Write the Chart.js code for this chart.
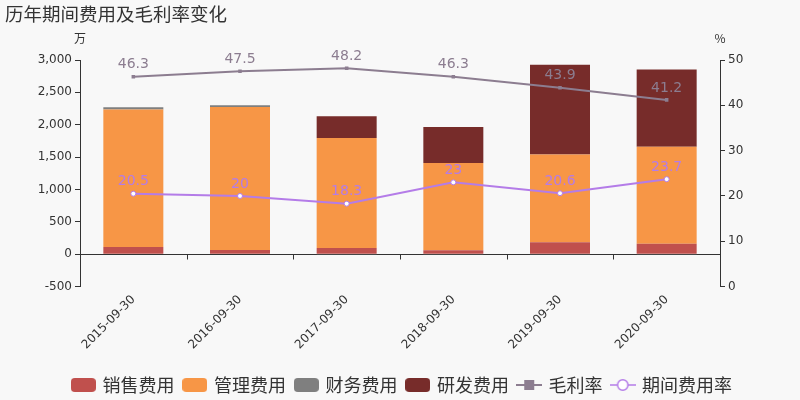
<!DOCTYPE html>
<html>
<head>
<meta charset="utf-8">
<script src="https://cdn.jsdelivr.net/npm/chart.js@4.4.1/dist/chart.umd.min.js"></script>
<style>
  html, body { margin: 0; padding: 0; background: #f8f8f8; }
  #wrap { width: 800px; height: 400px; }
</style>
</head>
<body>
<div id="wrap"><canvas id="c" width="800" height="400"></canvas></div>
<script>
const categories = ['2015-09-30', '2016-09-30', '2017-09-30', '2018-09-30', '2019-09-30', '2020-09-30'];
const salesExpense = [110, 65, 95, 60, 185, 160];
const adminExpense = [2125, 2210, 1700, 1350, 1355, 1500];
const financeExpense = [35, 25, -10, -10, -10, -10];
const rdExpense = [0, 0, 335, 555, 1385, 1195];
const grossMargin = [46.3, 47.5, 48.2, 46.3, 43.9, 41.2];
const expenseRate = [20.5, 20, 18.3, 23, 20.6, 23.7];
const leftTicks = { min: -500, max: 3000, step: 500 };
const rightTicks = { min: 0, max: 50, step: 10 };

const FONT = "'DejaVu Sans', 'Noto Sans CJK SC', sans-serif";
const CJK = "'Noto Sans CJK SC', 'DejaVu Sans', sans-serif";
const TEXT = '#333333';
const C_SALES = '#c0504d', C_ADMIN = '#f79646', C_FIN = '#7f7f7f', C_RD = '#772c2a';
const C_GM = '#8c7d90', C_ER = '#b47ce8';

function makeCanvas(w, h, draw) {
  const cv = document.createElement('canvas');
  cv.width = w; cv.height = h;
  draw(cv.getContext('2d'));
  return cv;
}
function boxIcon(color) {
  return makeCanvas(25, 14, ctx => {
    ctx.fillStyle = color;
    const r = 4, w = 25, h = 14;
    ctx.beginPath();
    ctx.moveTo(r, 0); ctx.lineTo(w - r, 0); ctx.quadraticCurveTo(w, 0, w, r);
    ctx.lineTo(w, h - r); ctx.quadraticCurveTo(w, h, w - r, h);
    ctx.lineTo(r, h); ctx.quadraticCurveTo(0, h, 0, h - r);
    ctx.lineTo(0, r); ctx.quadraticCurveTo(0, 0, r, 0);
    ctx.fill();
  });
}
const iconGM = makeCanvas(26, 12, ctx => {
  ctx.strokeStyle = C_GM; ctx.lineWidth = 2;
  ctx.beginPath(); ctx.moveTo(0, 6); ctx.lineTo(26, 6); ctx.stroke();
  ctx.fillStyle = C_GM; ctx.fillRect(8, 1, 10, 10);
});
const iconER = makeCanvas(26, 14, ctx => {
  ctx.strokeStyle = C_ER; ctx.lineWidth = 1.5;
  ctx.beginPath(); ctx.moveTo(0, 7); ctx.lineTo(26, 7); ctx.stroke();
  ctx.fillStyle = '#ffffff';
  ctx.beginPath(); ctx.arc(13, 7, 5.2, 0, Math.PI * 2); ctx.fill(); ctx.stroke();
});

const zeroLinePlugin = {
  id: 'zeroLine',
  beforeDatasetsDraw(chart) {
    const { ctx, chartArea, scales } = chart;
    const y0 = Math.round(scales.y.getPixelForValue(0)) + 0.5;
    ctx.save();
    ctx.strokeStyle = TEXT; ctx.lineWidth = 1;
    ctx.beginPath(); ctx.moveTo(chartArea.left, y0); ctx.lineTo(chartArea.right, y0); ctx.stroke();
    const xs = scales.x;
    for (let i = 1; i < categories.length; i++) {
      const xb = Math.round((xs.getPixelForValue(i - 1) + xs.getPixelForValue(i)) / 2) + 0.5;
      ctx.beginPath(); ctx.moveTo(xb, y0); ctx.lineTo(xb, y0 + 5); ctx.stroke();
    }
    ctx.restore();
  }
};

const labelsPlugin = {
  id: 'pointLabels',
  afterDatasetsDraw(chart) {
    const { ctx } = chart;
    ctx.save();
    ctx.font = '14px ' + FONT;
    ctx.textAlign = 'center';
    ctx.textBaseline = 'bottom';
    chart.data.datasets.forEach((ds, di) => {
      if (ds.type !== 'line') return;
      const meta = chart.getDatasetMeta(di);
      ctx.fillStyle = ds.borderColor;
      meta.data.forEach((pt, i) => {
        ctx.fillText(String(ds.data[i]), pt.x, pt.y - 5);
      });
    });
    ctx.restore();
  },
  afterDraw(chart) {
    const { ctx, scales, chartArea } = chart;
    ctx.save();
    ctx.font = '12px ' + CJK;
    ctx.fillStyle = TEXT;
    ctx.textAlign = 'center';
    ctx.textBaseline = 'middle';
    ctx.fillText('万', scales.y.right, chartArea.top - 22);
    ctx.fillText('%', scales.y1.left, chartArea.top - 22);
    ctx.restore();
  }
};

const legendIcons = [boxIcon(C_SALES), boxIcon(C_ADMIN), boxIcon(C_FIN), boxIcon(C_RD), iconGM, iconER];

new Chart(document.getElementById('c'), {
  data: {
    labels: categories,
    datasets: [
      { type: 'bar', label: '销售费用', data: salesExpense, backgroundColor: C_SALES, borderWidth: 0, yAxisID: 'y', stack: 's', order: 2 },
      { type: 'bar', label: '管理费用', data: adminExpense, backgroundColor: C_ADMIN, borderWidth: 0, yAxisID: 'y', stack: 's', order: 2 },
      { type: 'bar', label: '财务费用', data: financeExpense, backgroundColor: C_FIN, borderWidth: 0, yAxisID: 'y', stack: 's', order: 2 },
      { type: 'bar', label: '研发费用', data: rdExpense, backgroundColor: C_RD, borderWidth: 0, yAxisID: 'y', stack: 's', order: 2 },
      { type: 'line', label: '毛利率', data: grossMargin, borderColor: C_GM, backgroundColor: C_GM, borderWidth: 2, pointStyle: 'rect', pointRadius: 2.5, pointBorderWidth: 0, yAxisID: 'y1', order: 1, tension: 0 },
      { type: 'line', label: '期间费用率', data: expenseRate, borderColor: C_ER, backgroundColor: '#ffffff', borderWidth: 2, pointStyle: 'circle', pointRadius: 2.5, pointBorderWidth: 1, pointBackgroundColor: '#ffffff', yAxisID: 'y1', order: 1, tension: 0 }
    ]
  },
  options: {
    responsive: false,
    animation: false,
    devicePixelRatio: 1,
    layout: { padding: { left: 5, right: 0, top: 0, bottom: -4 } },
    datasets: { bar: { categoryPercentage: 1, barPercentage: 0.5625 } },
    plugins: {
      tooltip: { enabled: false },
      title: {
        display: true, text: '历年期间费用及毛利率变化', align: 'start', color: TEXT,
        font: { family: CJK, size: 18.5, weight: 'normal' },
        padding: { top: 3, bottom: 34.8 }
      },
      legend: {
        position: 'bottom',
        labels: {
          usePointStyle: true, pointStyleWidth: 20.5, boxHeight: 14, padding: 10,
          font: { family: CJK, size: 18 }, color: TEXT,
          generateLabels(chart) {
            return chart.data.datasets.map((ds, i) => ({
              text: ds.label, pointStyle: legendIcons[i], fontColor: TEXT,
              fillStyle: ds.backgroundColor, strokeStyle: ds.borderColor, lineWidth: 0,
              hidden: false, datasetIndex: i
            }));
          }
        }
      }
    },
    scales: {
      x: {
        type: 'category', stacked: true,
        grid: { display: false, drawTicks: false }, border: { display: false },
        ticks: { color: TEXT, font: { family: FONT, size: 12 }, minRotation: 45, maxRotation: 45, padding: 6 },
        afterFit(s) { s.height = 79.4; }
      },
      y: {
        position: 'left', stacked: true, min: leftTicks.min, max: leftTicks.max,
        grid: { drawOnChartArea: false, drawTicks: true, tickLength: 5, color: TEXT },
        border: { display: true, color: TEXT },
        ticks: { stepSize: leftTicks.step, color: TEXT, font: { family: FONT, size: 12 }, padding: 3 },
        afterFit(s) { s.width = 75; }
      },
      y1: {
        position: 'right', min: rightTicks.min, max: rightTicks.max,
        grid: { drawOnChartArea: false, drawTicks: true, tickLength: 5, color: TEXT },
        border: { display: true, color: TEXT },
        ticks: { stepSize: rightTicks.step, color: TEXT, font: { family: FONT, size: 12 }, padding: 3 },
        afterFit(s) { s.width = 80; }
      }
    }
  },
  plugins: [zeroLinePlugin, labelsPlugin]
});
</script>
</body>
</html>
